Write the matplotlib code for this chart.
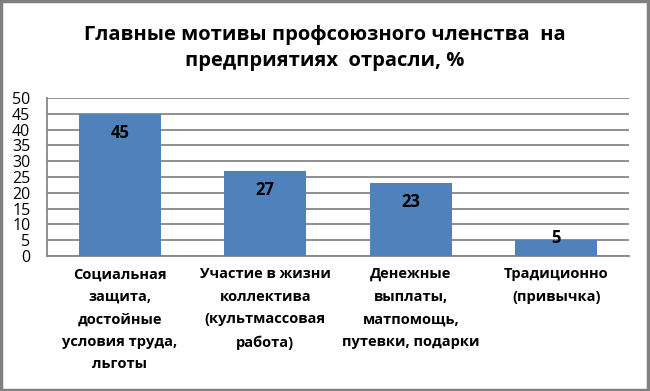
import matplotlib
matplotlib.use("Agg")
import matplotlib.pyplot as plt
from matplotlib.patches import Rectangle

plt.rcParams['font.family'] = ['Open Sans', 'DejaVu Sans']

title = "Главные мотивы профсоюзного членства  на\nпредприятиях  отрасли, %"
categories = [
    "Социальная\nзащита,\nдостойные\nусловия труда,\nльготы",
    "Участие в жизни\nколлектива\n(культмассовая\nработа)",
    "Денежные\nвыплаты,\nматпомощь,\nпутевки, подарки",
    "Традиционно\n(привычка)",
]
values = [45, 27, 23, 5]
y_ticks = [0, 5, 10, 15, 20, 25, 30, 35, 40, 45, 50]

bar_color = "#4F81BD"
grid_color = "#878787"

fig = plt.figure(figsize=(6.5, 3.91), dpi=100)
ax = fig.add_axes([47/650, 1-256/391, (629-47)/650, (256-98)/391])

x = list(range(len(values)))
bars = ax.bar(x, values, width=0.565, color=bar_color, zorder=3)

ax.set_xlim(-0.5, len(values)-0.5)
ax.set_ylim(0, 50)
ax.set_yticks(y_ticks)
ax.set_yticklabels([str(t) for t in y_ticks], fontsize=11.5)
ax.yaxis.grid(True, color=grid_color, linewidth=1.3, zorder=0)
ax.tick_params(axis='y', length=0, pad=12)
ax.tick_params(axis='x', length=0, pad=8)
ax.set_xticks(x)
ax.set_xticklabels(categories, fontsize=10.5, fontweight='bold', linespacing=1.78, va='top')
for s in ['top', 'right']:
    ax.spines[s].set_visible(False)
for s in ['left', 'bottom']:
    ax.spines[s].set_color(grid_color)
    ax.spines[s].set_linewidth(1.3)

for b, v in zip(bars, values):
    off = -19 if v > 10 else 2
    ax.annotate(str(v), (b.get_x() + b.get_width()/2, v), xytext=(0, off*0.72),
                textcoords='offset points', ha='center', va='center',
                fontsize=12, fontweight='bold', color='black', zorder=4)

fig.text(0.5, 1-48/391, title, ha='center', va='center', fontsize=14.5,
         fontweight='bold', linespacing=1.45)

fig.patches.append(Rectangle((0.002, 0.003), 0.995, 0.994, transform=fig.transFigure,
                             fill=False, edgecolor='#808080', linewidth=2.5))

fig.savefig("out.png", dpi=100)
